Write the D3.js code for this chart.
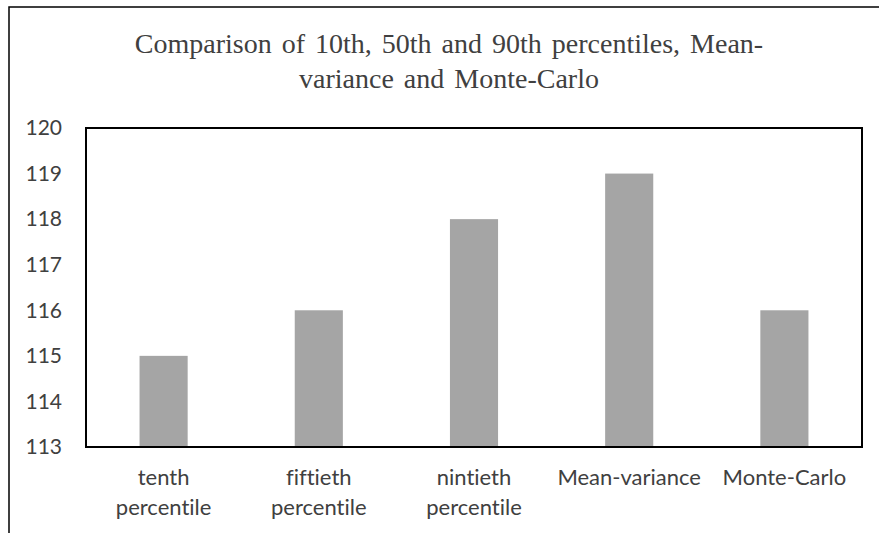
<!DOCTYPE html>
<html><head><meta charset="utf-8">
<script src="https://cdn.jsdelivr.net/npm/d3@7/dist/d3.min.js"></script>
<style>body{margin:0;background:#fff} text{font-variant-ligatures:none;font-feature-settings:"liga" 0}</style>
</head><body>
<svg id="c" width="879" height="533"></svg>
<script>
const categories = [["tenth","percentile"],["fiftieth","percentile"],["nintieth","percentile"],["Mean-variance"],["Monte-Carlo"]];
const values = [115, 116, 118, 119, 116];
const yTicks = [113,114,115,116,117,118,119,120];
const titleLines = ["Comparison of 10th, 50th and 90th percentiles, Mean-","variance and Monte-Carlo"];

const svg = d3.select("#c");
svg.append("rect").attr("x",9).attr("y",7).attr("width",900).attr("height",600)
  .attr("fill","#fff").attr("stroke","#000").attr("stroke-width",1.5);

const L=86,R=862,T=128,B=447;
const x = d3.scaleBand().domain(d3.range(categories.length)).range([L,R]).paddingInner(0.69).paddingOuter(0.345);
const y = d3.scaleLinear().domain([113,120]).range([B,T]);

svg.append("g").selectAll("rect").data(values).join("rect")
  .attr("x",(d,i)=>x(i)).attr("width",x.bandwidth())
  .attr("y",d=>y(d)).attr("height",d=>B-y(d)).attr("fill","#a5a5a5");

svg.append("rect").attr("x",L).attr("y",T).attr("width",R-L).attr("height",B-T)
  .attr("fill","none").attr("stroke","#000").attr("stroke-width",2);

const yAxis = d3.axisLeft(y).tickValues(yTicks).tickSize(0).tickPadding(24).tickFormat(d3.format("d"));
const ga = svg.append("g").attr("transform",`translate(${L},0)`).call(yAxis);
ga.select(".domain").remove();
ga.selectAll("text").attr("font-family","Lato, 'Open Sans', sans-serif").attr("font-size",21).attr("fill","#404040");

const xl = svg.append("g");
categories.forEach((lines,i)=>{
  const t = xl.append("text").attr("x",x(i)+x.bandwidth()/2).attr("y",485)
    .attr("text-anchor","middle").attr("font-family","Lato, 'Open Sans', sans-serif")
    .attr("font-size",22).attr("fill","#404040");
  lines.forEach((s,j)=>t.append("tspan").attr("x",x(i)+x.bandwidth()/2).attr("dy",j?30:0).text(s));
});

const tt = svg.append("text").attr("text-anchor","middle").attr("font-family","'Liberation Serif','Times New Roman',serif")
  .attr("font-size",28).attr("word-spacing",3).attr("fill","#404040");
titleLines.forEach((s,j)=>tt.append("tspan").attr("x",449).attr("y",53+j*35).text(s));
</script>
</body></html>
